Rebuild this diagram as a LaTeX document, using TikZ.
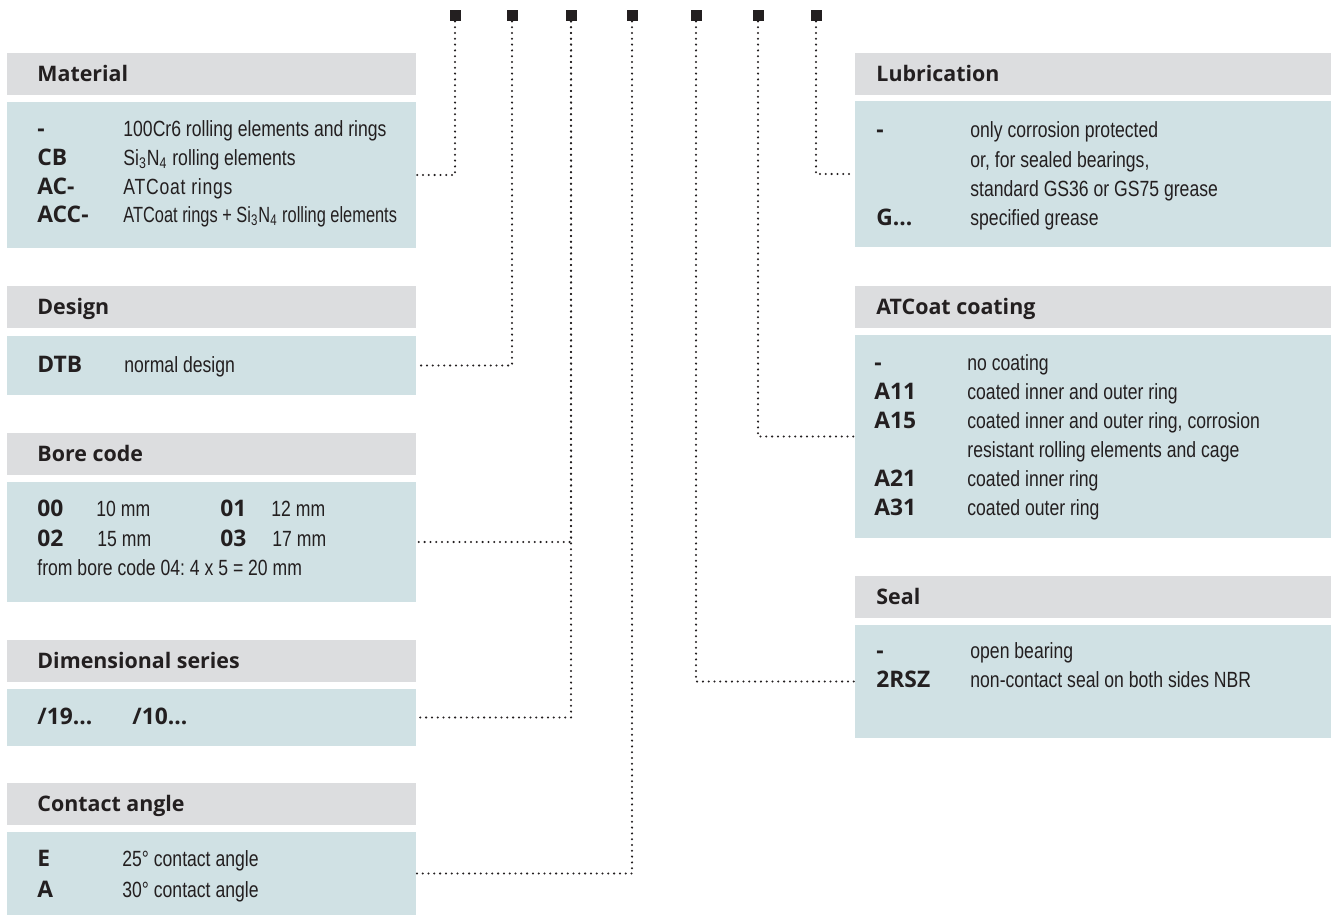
\documentclass[tikz,border=0pt]{standalone}
\usepackage{fontspec}
\setmainfont{Liberation Sans}[FakeStretch=0.8]
\newfontfamily\hfont{Open Sans}
\newfontfamily\narrowfont{Liberation Sans}[FakeStretch=0.745]
\newfontfamily\spacedfont{Liberation Sans}[FakeStretch=0.8, LetterSpace=3.5]
\frenchspacing
\usetikzlibrary{fit}
\definecolor{hdr}{HTML}{DCDDDF}
\definecolor{bdy}{HTML}{D0E1E4}
\definecolor{ink}{HTML}{231F20}
\tikzset{
 hdrbox/.style={fill=hdr, draw=none, inner sep=0pt},
 bodybox/.style={fill=bdy, draw=none, inner sep=0pt},
 htext/.style={anchor=base west, inner sep=0pt, font=\hfont\bfseries\fontsize{10.7}{12}\selectfont, text=ink},
 ctext/.style={anchor=base west, inner sep=0pt, font=\hfont\bfseries\fontsize{11.4}{12}\selectfont, text=ink},
 dtext/.style={anchor=base west, inner sep=0pt, font=\fontsize{11}{12}\selectfont, text=ink},
 marker/.style={fill=ink, minimum size=5.5pt, inner sep=0pt, draw=none},
 conn/.style={draw=ink, line width=1.15pt, dash pattern=on 0pt off 2.9pt, line cap=round},
}
\begin{document}
\begin{tikzpicture}[x=0.5pt,y=-0.5pt]
\useasboundingbox (0,0) rectangle (1338,915);
% ---------- boxes left ----------
\node[hdrbox, fit={(7,53) (416,95)}] (math) {};
\node[bodybox, fit={(7,102) (416,248)}] (matb) {};
\node[hdrbox, fit={(7,286) (416,328)}] (desh) {};
\node[bodybox, fit={(7,336) (416,395)}] (desb) {};
\node[hdrbox, fit={(7,433) (416,475)}] (boreh) {};
\node[bodybox, fit={(7,482) (416,602)}] (boreb) {};
\node[hdrbox, fit={(7,640) (416,682)}] (dimh) {};
\node[bodybox, fit={(7,689) (416,746)}] (dimb) {};
\node[hdrbox, fit={(7,783) (416,825)}] (conh) {};
\node[bodybox, fit={(7,832) (416,915)}] (conb) {};
% ---------- boxes right ----------
\node[hdrbox, fit={(855,53) (1331,95)}] (lubh) {};
\node[bodybox, fit={(855,101) (1331,247)}] (lubb) {};
\node[hdrbox, fit={(855,286) (1331,328)}] (ath) {};
\node[bodybox, fit={(855,335) (1331,538)}] (atb) {};
\node[hdrbox, fit={(855,576) (1331,618)}] (sealh) {};
\node[bodybox, fit={(855,625) (1331,738)}] (sealb) {};
% ---------- markers ----------
\node[marker] (s1) at (455,15.5) {};
\node[marker] (s2) at (512,15.5) {};
\node[marker] (s3) at (571,15.5) {};
\node[marker] (s4) at (632,15.5) {};
\node[marker] (s5) at (696,15.5) {};
\node[marker] (s6) at (758,15.5) {};
\node[marker] (s7) at (816,15.5) {};
% ---------- connectors ----------
\draw[conn] (s1.south) |- (matb.east);
\draw[conn] (s2.south) |- (desb.east);
\draw[conn] (s3.south) |- (boreb.east);
\draw[conn] (s3.south) |- (dimb.east);
\draw[conn] (s4.south) |- (conb.east);
\draw[conn] (s5.south) |- (sealb.west);
\draw[conn] (s6.south) |- (atb.west);
\draw[conn] (s7.south) |- (lubb.west);
% ---------- Material ----------
\node[htext] (matt) at (37,81.7) {Material};
\node[ctext] (mc1) at (37,137) {-};
\node[dtext] (md1) at (123,137) {100Cr6 rolling elements and rings};
\node[ctext] (mc2) at (37,165) {CB};
\node[dtext] (md2) at (123,165) {Si\textsubscript{3}N\textsubscript{4} rolling elements};
\node[ctext] (mc3) at (37,194) {AC-};
\node[dtext] (md3) at (123,194) {\spacedfont ATCoat rings};
\node[ctext] (mc4) at (37,222) {ACC-};
\node[dtext] (md4) at (123,222) {\narrowfont ATCoat rings + Si\textsubscript{3}N\textsubscript{4} rolling elements};
% ---------- Design ----------
\node[htext] (dest) at (37,314.7) {Design};
\node[ctext] (dc1) at (37,372) {DTB};
\node[dtext] (dd1) at (124,372) {normal design};
% ---------- Bore code ----------
\node[htext] (boret) at (37,461.7) {Bore code};
\node[ctext] (bc1) at (37,516) {00};
\node[dtext] (bd1) at (96,516) {10 mm};
\node[ctext] (bc2) at (220,516) {01};
\node[dtext] (bd2) at (271,516) {12 mm};
\node[ctext] (bc3) at (37,546) {02};
\node[dtext] (bd3) at (97,546) {15 mm};
\node[ctext] (bc4) at (220,546) {03};
\node[dtext] (bd4) at (272,546) {17 mm};
\node[dtext] (bd5) at (37,575) {from bore code 04: 4 x 5 = 20 mm};
% ---------- Dimensional series ----------
\node[htext] (dimt) at (37,668.7) {Dimensional series};
\node[ctext] (dc19) at (37,724) {/19…};
\node[ctext] (dc10) at (132,724) {/10…};
% ---------- Contact angle ----------
\node[htext] (cont) at (37,811.2) {Contact angle};
\node[ctext] (cc1) at (37,866) {E};
\node[dtext] (cd1) at (122,866) {25° contact angle};
\node[ctext] (cc2) at (37,897) {A};
\node[dtext] (cd2) at (122,897) {30° contact angle};
% ---------- Lubrication ----------
\node[htext] (lubt) at (876,81.7) {Lubrication};
\node[ctext] (lc1) at (876,138) {-};
\node[dtext] (ld1) at (970,138) {only corrosion protected};
\node[dtext] (ld2) at (970,167) {or, for sealed bearings,};
\node[dtext] (ld3) at (970,196) {standard GS36 or GS75 grease};
\node[ctext] (lc2) at (876,225) {G…};
\node[dtext] (ld4) at (970,225) {specified grease};
% ---------- ATCoat coating ----------
\node[htext] (att) at (876,314.7) {ATCoat coating};
\node[ctext] (ac1) at (874,370) {-};
\node[dtext] (ad1) at (967,370) {no coating};
\node[ctext] (ac2) at (874,399) {A11};
\node[dtext] (ad2) at (967,399) {coated inner and outer ring};
\node[ctext] (ac3) at (874,428) {A15};
\node[dtext] (ad3) at (967,428) {coated inner and outer ring, corrosion};
\node[dtext] (ad4) at (967,457) {resistant rolling elements and cage};
\node[ctext] (ac4) at (874,486) {A21};
\node[dtext] (ad5) at (967,486) {coated inner ring};
\node[ctext] (ac5) at (874,515) {A31};
\node[dtext] (ad6) at (967,515) {coated outer ring};
% ---------- Seal ----------
\node[htext] (sealt) at (876,604.7) {Seal};
\node[ctext] (sc1) at (876,658) {-};
\node[dtext] (sd1) at (970,658) {open bearing};
\node[ctext] (sc2) at (876,687) {2RSZ};
\node[dtext] (sd2) at (970,687) {non-contact seal on both sides NBR};
\end{tikzpicture}
\end{document}
